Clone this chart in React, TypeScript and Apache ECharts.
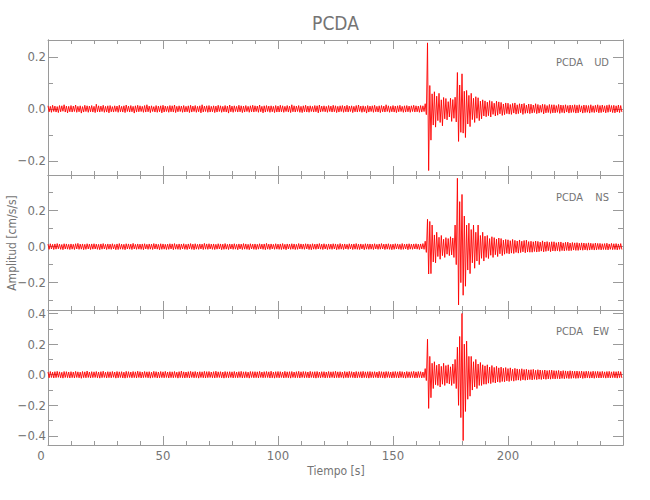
import React, { useEffect, useRef } from "react";
import * as echarts from "echarts";

// ---- data: per-second max (HI) and min (LO) of each trace, t = 0..249 s ----
const UD_HI = [
  0.012, 0.010, 0.014, 0.011, 0.009, 0.013, 0.012, 0.016, 0.011, 0.010,
  0.013, 0.011, 0.015, 0.010, 0.012, 0.009, 0.014, 0.012, 0.011, 0.013,
  0.010, 0.018, 0.012, 0.011, 0.014, 0.010, 0.012, 0.013, 0.009, 0.012,
  0.011, 0.014, 0.010, 0.012, 0.015, 0.011, 0.013, 0.010, 0.012, 0.014,
  0.012, 0.010, 0.013, 0.016, 0.011, 0.012, 0.009, 0.013, 0.011, 0.012,
  0.014, 0.011, 0.010, 0.013, 0.012, 0.015, 0.010, 0.012, 0.011, 0.013,
  0.010, 0.012, 0.014, 0.011, 0.013, 0.010, 0.012, 0.016, 0.011, 0.012,
  0.013, 0.010, 0.012, 0.011, 0.014, 0.012, 0.010, 0.013, 0.011, 0.015,
  0.011, 0.012, 0.010, 0.014, 0.012, 0.011, 0.013, 0.010, 0.012, 0.014,
  0.012, 0.011, 0.015, 0.010, 0.012, 0.013, 0.011, 0.012, 0.010, 0.013,
  0.011, 0.014, 0.012, 0.010, 0.013, 0.011, 0.016, 0.012, 0.011, 0.013,
  0.010, 0.012, 0.014, 0.011, 0.012, 0.010, 0.013, 0.012, 0.015, 0.011,
  0.012, 0.010, 0.013, 0.011, 0.014, 0.012, 0.010, 0.012, 0.013, 0.011,
  0.014, 0.011, 0.012, 0.010, 0.013, 0.015, 0.011, 0.012, 0.010, 0.013,
  0.011, 0.012, 0.014, 0.010, 0.012, 0.013, 0.011, 0.016, 0.012, 0.010,
  0.013, 0.011, 0.012, 0.014, 0.010, 0.012, 0.013, 0.011, 0.012, 0.014,
  0.012, 0.011, 0.013, 0.012, 0.020, 0.254, 0.090, 0.058, 0.066, 0.049,
  0.060, 0.035, 0.044, 0.040, 0.028, 0.041, 0.036, 0.045, 0.140, 0.092,
  0.135, 0.068, 0.071, 0.052, 0.060, 0.041, 0.047, 0.043, 0.030, 0.035,
  0.031, 0.026, 0.032, 0.029, 0.022, 0.030, 0.027, 0.025, 0.019, 0.023,
  0.022, 0.017, 0.021, 0.023, 0.016, 0.020, 0.019, 0.021, 0.015, 0.019,
  0.018, 0.015, 0.020, 0.017, 0.014, 0.018, 0.017, 0.013, 0.017, 0.016,
  0.016, 0.013, 0.017, 0.015, 0.014, 0.016, 0.013, 0.015, 0.014, 0.016,
  0.014, 0.016, 0.012, 0.015, 0.014, 0.013, 0.016, 0.012, 0.014, 0.016,
  0.013, 0.015, 0.012, 0.014, 0.016, 0.013, 0.014, 0.012, 0.015, 0.013,
];
const UD_LO = [
  -0.011, -0.013, -0.010, -0.012, -0.014, -0.011, -0.009, -0.012, -0.015, -0.011,
  -0.012, -0.010, -0.013, -0.011, -0.016, -0.012, -0.010, -0.013, -0.011, -0.012,
  -0.014, -0.011, -0.012, -0.010, -0.013, -0.012, -0.015, -0.011, -0.012, -0.010,
  -0.013, -0.011, -0.012, -0.014, -0.010, -0.012, -0.011, -0.016, -0.012, -0.011,
  -0.010, -0.013, -0.012, -0.011, -0.014, -0.010, -0.012, -0.013, -0.011, -0.015,
  -0.012, -0.010, -0.013, -0.011, -0.012, -0.014, -0.011, -0.010, -0.013, -0.012,
  -0.011, -0.014, -0.012, -0.010, -0.013, -0.011, -0.015, -0.012, -0.010, -0.013,
  -0.012, -0.011, -0.014, -0.012, -0.010, -0.013, -0.011, -0.012, -0.016, -0.011,
  -0.013, -0.010, -0.012, -0.011, -0.014, -0.012, -0.010, -0.013, -0.011, -0.012,
  -0.010, -0.013, -0.011, -0.015, -0.012, -0.010, -0.013, -0.011, -0.014, -0.012,
  -0.012, -0.011, -0.013, -0.010, -0.012, -0.014, -0.011, -0.012, -0.010, -0.013,
  -0.014, -0.011, -0.012, -0.013, -0.010, -0.012, -0.011, -0.015, -0.012, -0.010,
  -0.011, -0.013, -0.010, -0.012, -0.011, -0.014, -0.012, -0.010, -0.013, -0.011,
  -0.012, -0.010, -0.014, -0.011, -0.012, -0.010, -0.013, -0.011, -0.016, -0.012,
  -0.010, -0.013, -0.011, -0.012, -0.014, -0.011, -0.012, -0.010, -0.013, -0.011,
  -0.012, -0.014, -0.011, -0.010, -0.013, -0.012, -0.011, -0.013, -0.010, -0.012,
  -0.011, -0.013, -0.012, -0.010, -0.022, -0.237, -0.120, -0.062, -0.070, -0.045,
  -0.052, -0.065, -0.038, -0.042, -0.031, -0.048, -0.036, -0.050, -0.125, -0.090,
  -0.093, -0.110, -0.058, -0.068, -0.041, -0.052, -0.036, -0.045, -0.038, -0.027,
  -0.030, -0.026, -0.031, -0.021, -0.027, -0.024, -0.019, -0.025, -0.022, -0.018,
  -0.020, -0.021, -0.016, -0.020, -0.018, -0.015, -0.021, -0.017, -0.016, -0.018,
  -0.016, -0.014, -0.018, -0.016, -0.013, -0.019, -0.015, -0.014, -0.017, -0.015,
  -0.015, -0.013, -0.017, -0.014, -0.016, -0.012, -0.016, -0.014, -0.013, -0.016,
  -0.015, -0.012, -0.016, -0.014, -0.013, -0.016, -0.013, -0.014, -0.012, -0.015,
  -0.014, -0.012, -0.015, -0.013, -0.011, -0.014, -0.015, -0.012, -0.014, -0.012,
];
const NS_HI = [
  0.014, 0.016, 0.013, 0.015, 0.017, 0.014, 0.012, 0.016, 0.015, 0.013,
  0.015, 0.013, 0.016, 0.018, 0.014, 0.015, 0.013, 0.016, 0.014, 0.015,
  0.016, 0.014, 0.013, 0.015, 0.017, 0.013, 0.015, 0.014, 0.016, 0.012,
  0.015, 0.017, 0.014, 0.013, 0.016, 0.015, 0.014, 0.018, 0.013, 0.015,
  0.014, 0.015, 0.016, 0.013, 0.015, 0.014, 0.017, 0.015, 0.013, 0.016,
  0.015, 0.013, 0.014, 0.016, 0.015, 0.017, 0.013, 0.015, 0.014, 0.016,
  0.013, 0.015, 0.017, 0.014, 0.016, 0.013, 0.015, 0.014, 0.018, 0.015,
  0.016, 0.014, 0.015, 0.013, 0.016, 0.015, 0.014, 0.017, 0.013, 0.015,
  0.014, 0.016, 0.013, 0.015, 0.014, 0.017, 0.015, 0.013, 0.016, 0.014,
  0.015, 0.013, 0.016, 0.014, 0.015, 0.018, 0.014, 0.015, 0.013, 0.016,
  0.014, 0.015, 0.017, 0.013, 0.015, 0.014, 0.016, 0.015, 0.013, 0.017,
  0.015, 0.014, 0.016, 0.015, 0.013, 0.016, 0.014, 0.015, 0.017, 0.014,
  0.016, 0.013, 0.015, 0.014, 0.016, 0.015, 0.013, 0.017, 0.014, 0.015,
  0.013, 0.016, 0.014, 0.015, 0.017, 0.014, 0.015, 0.013, 0.016, 0.015,
  0.015, 0.014, 0.016, 0.013, 0.015, 0.017, 0.014, 0.015, 0.016, 0.013,
  0.014, 0.016, 0.015, 0.013, 0.017, 0.014, 0.015, 0.016, 0.014, 0.015,
  0.016, 0.014, 0.015, 0.017, 0.030, 0.152, 0.140, 0.120, 0.065, 0.080,
  0.052, 0.062, 0.041, 0.050, 0.045, 0.055, 0.048, 0.120, 0.380, 0.250,
  0.290, 0.170, 0.120, 0.130, 0.095, 0.120, 0.080, 0.120, 0.062, 0.080,
  0.058, 0.062, 0.045, 0.055, 0.050, 0.042, 0.048, 0.045, 0.036, 0.040,
  0.038, 0.033, 0.040, 0.035, 0.031, 0.037, 0.030, 0.034, 0.036, 0.028,
  0.030, 0.027, 0.031, 0.029, 0.025, 0.032, 0.026, 0.028, 0.024, 0.027,
  0.027, 0.022, 0.025, 0.026, 0.021, 0.024, 0.025, 0.020, 0.023, 0.021,
  0.022, 0.019, 0.021, 0.020, 0.018, 0.021, 0.019, 0.017, 0.020, 0.018,
  0.018, 0.016, 0.017, 0.019, 0.015, 0.018, 0.016, 0.017, 0.015, 0.017,
];
const NS_LO = [
  -0.015, -0.013, -0.016, -0.014, -0.012, -0.015, -0.017, -0.013, -0.014, -0.016,
  -0.014, -0.016, -0.013, -0.015, -0.014, -0.017, -0.015, -0.013, -0.016, -0.014,
  -0.013, -0.015, -0.017, -0.014, -0.013, -0.016, -0.014, -0.015, -0.013, -0.017,
  -0.016, -0.014, -0.015, -0.017, -0.013, -0.014, -0.016, -0.013, -0.015, -0.014,
  -0.015, -0.017, -0.013, -0.015, -0.014, -0.016, -0.013, -0.014, -0.017, -0.015,
  -0.014, -0.016, -0.015, -0.013, -0.017, -0.014, -0.015, -0.016, -0.013, -0.015,
  -0.016, -0.013, -0.015, -0.017, -0.014, -0.015, -0.013, -0.016, -0.014, -0.015,
  -0.013, -0.015, -0.016, -0.014, -0.013, -0.017, -0.015, -0.014, -0.016, -0.013,
  -0.015, -0.014, -0.017, -0.013, -0.016, -0.014, -0.015, -0.017, -0.013, -0.015,
  -0.016, -0.014, -0.013, -0.015, -0.017, -0.014, -0.016, -0.013, -0.015, -0.014,
  -0.015, -0.016, -0.014, -0.017, -0.013, -0.015, -0.014, -0.016, -0.015, -0.013,
  -0.014, -0.015, -0.013, -0.016, -0.017, -0.014, -0.015, -0.013, -0.014, -0.016,
  -0.013, -0.016, -0.014, -0.015, -0.013, -0.017, -0.015, -0.014, -0.016, -0.013,
  -0.015, -0.013, -0.016, -0.014, -0.015, -0.016, -0.013, -0.017, -0.014, -0.015,
  -0.014, -0.016, -0.013, -0.015, -0.014, -0.013, -0.016, -0.014, -0.015, -0.017,
  -0.015, -0.013, -0.014, -0.016, -0.015, -0.013, -0.017, -0.014, -0.015, -0.013,
  -0.014, -0.016, -0.013, -0.015, -0.032, -0.152, -0.150, -0.085, -0.090, -0.055,
  -0.070, -0.050, -0.060, -0.042, -0.050, -0.046, -0.060, -0.100, -0.324, -0.200,
  -0.270, -0.220, -0.130, -0.150, -0.090, -0.120, -0.080, -0.100, -0.065, -0.080,
  -0.060, -0.066, -0.048, -0.060, -0.045, -0.055, -0.040, -0.050, -0.042, -0.037,
  -0.040, -0.036, -0.038, -0.032, -0.036, -0.033, -0.029, -0.034, -0.030, -0.031,
  -0.031, -0.027, -0.030, -0.028, -0.025, -0.029, -0.026, -0.023, -0.028, -0.024,
  -0.025, -0.023, -0.026, -0.022, -0.024, -0.021, -0.023, -0.022, -0.019, -0.021,
  -0.021, -0.019, -0.020, -0.018, -0.020, -0.019, -0.017, -0.019, -0.018, -0.016,
  -0.018, -0.016, -0.017, -0.018, -0.015, -0.017, -0.016, -0.018, -0.015, -0.016,
];
const EW_HI = [
  0.018, 0.021, 0.017, 0.020, 0.022, 0.019, 0.016, 0.021, 0.020, 0.018,
  0.020, 0.018, 0.022, 0.019, 0.017, 0.021, 0.019, 0.024, 0.018, 0.020,
  0.019, 0.021, 0.018, 0.020, 0.023, 0.017, 0.020, 0.019, 0.021, 0.018,
  0.021, 0.019, 0.020, 0.017, 0.022, 0.020, 0.018, 0.021, 0.019, 0.023,
  0.020, 0.018, 0.021, 0.019, 0.020, 0.017, 0.022, 0.020, 0.018, 0.021,
  0.019, 0.022, 0.018, 0.020, 0.019, 0.021, 0.017, 0.020, 0.024, 0.019,
  0.018, 0.020, 0.022, 0.019, 0.021, 0.018, 0.020, 0.019, 0.022, 0.020,
  0.021, 0.018, 0.020, 0.023, 0.019, 0.020, 0.018, 0.021, 0.019, 0.020,
  0.019, 0.021, 0.018, 0.020, 0.022, 0.019, 0.020, 0.017, 0.021, 0.020,
  0.020, 0.019, 0.022, 0.018, 0.020, 0.021, 0.019, 0.023, 0.018, 0.020,
  0.021, 0.020, 0.018, 0.022, 0.019, 0.020, 0.021, 0.018, 0.020, 0.022,
  0.019, 0.021, 0.020, 0.018, 0.022, 0.019, 0.020, 0.021, 0.018, 0.020,
  0.020, 0.018, 0.021, 0.019, 0.020, 0.023, 0.019, 0.020, 0.018, 0.021,
  0.019, 0.022, 0.020, 0.018, 0.021, 0.019, 0.020, 0.022, 0.019, 0.020,
  0.021, 0.019, 0.020, 0.018, 0.022, 0.020, 0.019, 0.021, 0.020, 0.018,
  0.020, 0.021, 0.019, 0.022, 0.020, 0.018, 0.021, 0.019, 0.020, 0.022,
  0.019, 0.021, 0.020, 0.018, 0.040, 0.232, 0.120, 0.075, 0.085, 0.062,
  0.070, 0.055, 0.075, 0.060, 0.065, 0.052, 0.070, 0.100, 0.180, 0.250,
  0.400, 0.200, 0.220, 0.120, 0.120, 0.085, 0.100, 0.070, 0.080, 0.065,
  0.058, 0.065, 0.050, 0.060, 0.048, 0.055, 0.045, 0.050, 0.042, 0.047,
  0.040, 0.045, 0.036, 0.042, 0.038, 0.035, 0.039, 0.034, 0.036, 0.032,
  0.033, 0.035, 0.029, 0.033, 0.031, 0.028, 0.031, 0.027, 0.029, 0.030,
  0.027, 0.026, 0.028, 0.024, 0.027, 0.025, 0.023, 0.026, 0.024, 0.023,
  0.024, 0.022, 0.024, 0.021, 0.023, 0.022, 0.020, 0.023, 0.021, 0.022,
  0.020, 0.022, 0.019, 0.021, 0.022, 0.019, 0.021, 0.020, 0.022, 0.020,
];
const EW_LO = [
  -0.020, -0.018, -0.021, -0.019, -0.017, -0.020, -0.022, -0.018, -0.019, -0.021,
  -0.019, -0.021, -0.018, -0.020, -0.023, -0.019, -0.020, -0.018, -0.021, -0.019,
  -0.018, -0.020, -0.022, -0.019, -0.018, -0.021, -0.019, -0.020, -0.017, -0.022,
  -0.020, -0.018, -0.021, -0.022, -0.019, -0.018, -0.020, -0.019, -0.021, -0.018,
  -0.021, -0.019, -0.018, -0.020, -0.022, -0.019, -0.018, -0.021, -0.020, -0.019,
  -0.020, -0.018, -0.021, -0.019, -0.020, -0.018, -0.022, -0.019, -0.020, -0.021,
  -0.019, -0.021, -0.018, -0.020, -0.019, -0.022, -0.018, -0.020, -0.021, -0.019,
  -0.018, -0.020, -0.021, -0.019, -0.018, -0.020, -0.022, -0.019, -0.020, -0.018,
  -0.021, -0.019, -0.020, -0.018, -0.021, -0.020, -0.019, -0.022, -0.018, -0.020,
  -0.019, -0.021, -0.018, -0.020, -0.019, -0.018, -0.021, -0.020, -0.022, -0.019,
  -0.020, -0.018, -0.021, -0.019, -0.020, -0.022, -0.018, -0.020, -0.019, -0.021,
  -0.018, -0.020, -0.019, -0.021, -0.018, -0.020, -0.022, -0.019, -0.020, -0.018,
  -0.021, -0.019, -0.020, -0.018, -0.021, -0.019, -0.020, -0.018, -0.022, -0.019,
  -0.020, -0.018, -0.019, -0.021, -0.020, -0.018, -0.021, -0.019, -0.020, -0.022,
  -0.019, -0.020, -0.018, -0.021, -0.019, -0.020, -0.022, -0.018, -0.019, -0.021,
  -0.020, -0.019, -0.021, -0.018, -0.020, -0.022, -0.019, -0.020, -0.018, -0.021,
  -0.020, -0.018, -0.021, -0.019, -0.038, -0.220, -0.150, -0.090, -0.065, -0.070,
  -0.080, -0.062, -0.070, -0.055, -0.060, -0.070, -0.058, -0.090, -0.200, -0.280,
  -0.430, -0.240, -0.160, -0.140, -0.100, -0.080, -0.090, -0.070, -0.070, -0.062,
  -0.062, -0.055, -0.058, -0.050, -0.054, -0.047, -0.050, -0.044, -0.046, -0.040,
  -0.044, -0.038, -0.042, -0.037, -0.035, -0.038, -0.033, -0.036, -0.034, -0.031,
  -0.034, -0.030, -0.032, -0.029, -0.031, -0.028, -0.030, -0.027, -0.029, -0.026,
  -0.027, -0.025, -0.027, -0.024, -0.026, -0.023, -0.025, -0.024, -0.022, -0.024,
  -0.023, -0.021, -0.024, -0.022, -0.020, -0.022, -0.021, -0.023, -0.020, -0.021,
  -0.021, -0.019, -0.022, -0.020, -0.021, -0.019, -0.020, -0.022, -0.019, -0.021,
];

const STATION = "PCDA";
const COMPONENTS = ["UD", "NS", "EW"];
const Y_RANGES = [
  [-0.254, 0.265],
  [-0.352, 0.398],
  [-0.459, 0.423],
];
const Y_MAJOR = [
  [-0.2, 0, 0.2],
  [-0.2, 0, 0.2],
  [-0.4, -0.2, 0, 0.2, 0.4],
];
const Y_MINOR = [
  [-0.2, -0.1, 0, 0.1, 0.2],
  [-0.3, -0.2, -0.1, 0, 0.1, 0.2, 0.3],
  [-0.4, -0.3, -0.2, -0.1, 0, 0.1, 0.2, 0.3, 0.4],
];
const X_MIN = 0;
const X_MAX = 250;
const X_TITLE = "Tiempo [s]";
const Y_TITLE = "Amplitud [cm/s/s]";

const FONT = "'Liberation Sans Narrow', 'DejaVu Sans Condensed', sans-serif";
const TXT = "#747474";
const AX = "#9a9a9a";

function trace(hi: number[], lo: number[]) {
  const out: number[][] = [];
  for (let i = 0; i < hi.length; i++) {
    out.push([i, hi[i]]);
    out.push([i + 0.5, lo[i]]);
  }
  return out;
}

const fmtY = (v: number) => {
  const s = (Math.abs(v) < 1e-9 ? 0 : v).toFixed(1);
  return s.replace("-", "\u2212");
};

export default function App() {
  const ref = useRef<HTMLDivElement>(null);
  useEffect(() => {
    if (!ref.current) return;
    const chart = echarts.init(ref.current, undefined, { renderer: "svg" });
    const tops = [40, 175, 310];
    const grid = tops.map((t) => ({ left: 48, right: 27, top: t, height: 135 }));
    const xAxis: any[] = [];
    const yAxis: any[] = [];
    const series: any[] = [];
    const traces = [
      trace(UD_HI, UD_LO),
      trace(NS_HI, NS_LO),
      trace(EW_HI, EW_LO),
    ];
    tops.forEach((_, g) => {
      ["bottom", "top"].forEach((pos) => {
        const showLab = g === 2 && pos === "bottom";
        xAxis.push({
          type: "value",
          gridIndex: g,
          position: pos,
          min: X_MIN,
          max: X_MAX,
          interval: 50,
          axisLine: { show: true, onZero: false, lineStyle: { color: AX, width: 1 } },
          axisTick: { show: true, inside: true, length: 9, lineStyle: { color: AX } },
          minorTick: { show: true, splitNumber: 5, length: 4, lineStyle: { color: AX } },
          splitLine: { show: false },
          axisLabel: {
            show: showLab,
            margin: 4,
            color: TXT,
            fontFamily: FONT,
            fontSize: 13,
            showMaxLabel: false,
            formatter: (v: number) => (v === 0 ? "{z|0}" : String(v)),
            rich: { z: { padding: [0, 14, 0, 0], color: TXT, fontFamily: FONT, fontSize: 13 } },
          },
        });
      });
      const [mn, mx] = Y_RANGES[g];
      [
        ["left", Y_MAJOR[g], 10, true],
        ["left", Y_MINOR[g], 5, false],
        ["right", Y_MAJOR[g], 10, false],
        ["right", Y_MINOR[g], 5, false],
      ].forEach(([pos, vals, len, lab]: any) => {
        yAxis.push({
          type: "value",
          gridIndex: g,
          position: pos,
          min: mn,
          max: mx,
          axisLine: { show: true, onZero: false, lineStyle: { color: AX, width: 1 } },
          axisTick: {
            show: true,
            inside: true,
            length: len,
            customValues: vals,
            lineStyle: { color: AX },
          },
          splitLine: { show: false },
          axisLabel: {
            show: lab,
            margin: 2,
            color: TXT,
            fontFamily: FONT,
            fontSize: 13,
            hideOverlap: false,
            customValues: vals,
            formatter: fmtY,
          },
        });
      });
      series.push({
        type: "line",
        xAxisIndex: g * 2,
        yAxisIndex: g * 4,
        data: traces[g],
        symbol: "none",
        showSymbol: false,
        silent: true,
        clip: true,
        lineStyle: { color: "#ff0000", width: 0.9 },
      });
    });

    const txt = (text: string, x: number, y: number, size: number, align: string, extra: any = {}) => ({
      type: "text",
      x,
      y,
      silent: true,
      ...extra,
      style: {
        text,
        fill: TXT,
        fontFamily: FONT,
        fontSize: size,
        align,
        textAlign: align,
        verticalAlign: "middle",
        textVerticalAlign: "middle",
      },
    });
    const labelYs = [62, 197, 331];
    const graphic: any[] = [
      txt(STATION, 335.5, 23, 19, "center"),
      txt(X_TITLE, 336, 471, 12, "center"),
      txt(Y_TITLE, 12, 243, 12, "center", { rotation: Math.PI / 2 }),
    ];
    COMPONENTS.forEach((c, i) => {
      graphic.push(txt(STATION, 583, labelYs[i], 11, "right"));
      graphic.push(txt(c, 609, labelYs[i], 11, "right"));
    });

    chart.setOption({
      animation: false,
      backgroundColor: "#ffffff",
      grid,
      xAxis,
      yAxis,
      series,
      graphic,
    });
    return () => chart.dispose();
  }, []);
  return (
    <div
      ref={ref}
      style={{ position: "fixed", left: 0, top: 0, width: 650, height: 500 }}
    />
  );
}
